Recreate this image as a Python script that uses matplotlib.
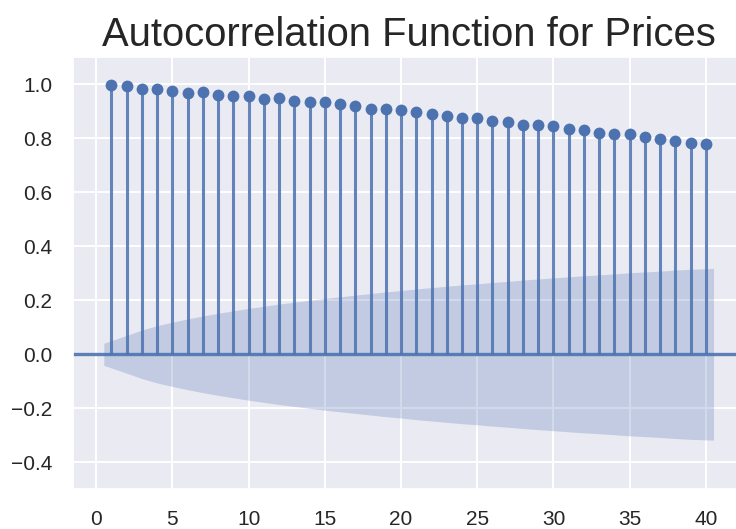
import numpy as np
import matplotlib
matplotlib.use("Agg")
import matplotlib.pyplot as plt
import seaborn as sns

sns.set_theme(style="darkgrid")
plt.rcParams['font.family'] = ['Liberation Sans', 'DejaVu Sans']

# autocorrelation at lags 1..40
lags = list(range(1, 41))
acf_values = [0.998, 0.992, 0.983, 0.983, 0.977, 0.969, 0.970, 0.962, 0.955, 0.956,
              0.947, 0.949, 0.939, 0.933, 0.934, 0.927, 0.919, 0.910, 0.910, 0.904,
              0.896, 0.890, 0.881, 0.875, 0.875, 0.865, 0.859, 0.851, 0.851, 0.844,
              0.836, 0.830, 0.821, 0.816, 0.817, 0.806, 0.798, 0.791, 0.783, 0.778]
# half width of the 95% confidence band per lag
conf_band = [0.041, 0.070, 0.090, 0.106, 0.119, 0.131, 0.142, 0.152, 0.161, 0.170,
             0.178, 0.186, 0.193, 0.200, 0.207, 0.213, 0.219, 0.225, 0.231, 0.236,
             0.242, 0.247, 0.252, 0.257, 0.261, 0.266, 0.270, 0.275, 0.279, 0.283,
             0.287, 0.291, 0.294, 0.298, 0.302, 0.305, 0.308, 0.312, 0.315, 0.318]

color = "#4C72B0"

fig = plt.figure(figsize=(7.36, 5.29), dpi=100)
ax = fig.add_axes([73.3 / 736, 39.7 / 529, (744 - 73.3) / 736, 432 / 529])

ax.vlines(lags, 0, acf_values, color=color, lw=2.2, alpha=0.85)
ax.plot(lags, acf_values, marker='o', markersize=8.5, markeredgewidth=0,
        linestyle='None', color=color)
ax.axhline(0, color=color, lw=2.4, alpha=0.9)

# band is widened by half a lag at both ends, like statsmodels does
band_x = np.array(lags, dtype=float)
band_x[0] -= 0.5
band_x[-1] += 0.5
band = np.array(conf_band)
ax.fill_between(band_x, -band, band, color=color, alpha=0.25, linewidth=0)

ax.set_xlim(-1.5, 42.5)
ax.set_ylim(-0.5, 1.1)
ax.set_xticks(range(0, 41, 5))
ax.set_yticks([-0.4, -0.2, 0.0, 0.2, 0.4, 0.6, 0.8, 1.0])
ax.grid(color='white', linewidth=1.4)
ax.tick_params(axis='both', length=0, pad=15, labelsize=15, labelcolor='#262626')
ax.set_title("Autocorrelation Function for Prices", fontsize=28.8, color='#262626', pad=8.4)

fig.savefig("out.png", dpi=100)
